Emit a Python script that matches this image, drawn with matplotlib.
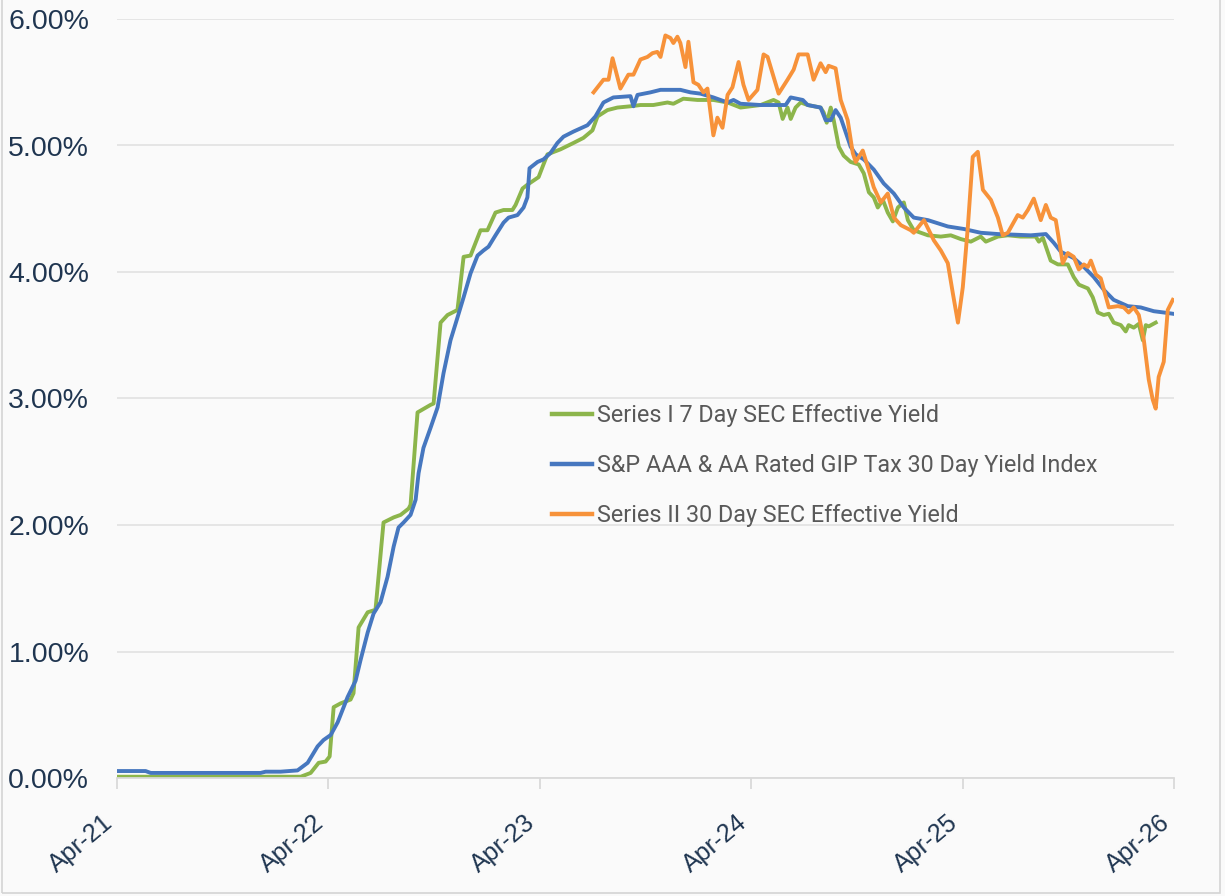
import numpy as np
import pandas as pd
import matplotlib
matplotlib.use("Agg")
import matplotlib.pyplot as plt
from matplotlib.ticker import FuncFormatter
from matplotlib.patches import Rectangle

# ---------------- data (dates as decimal years, yields in %) ----------------
series1_t = [2021.250, 2022.116, 2022.163, 2022.201, 2022.234, 2022.253, 2022.272, 2022.305,
             2022.352, 2022.366, 2022.390, 2022.433, 2022.470, 2022.508, 2022.556, 2022.589,
             2022.627, 2022.636, 2022.669, 2022.731, 2022.745, 2022.778, 2022.811, 2022.858,
             2022.887, 2022.920, 2022.967, 2023.000, 2023.038, 2023.076, 2023.118, 2023.133,
             2023.166, 2023.189, 2023.242, 2023.265, 2023.284, 2023.346, 2023.407, 2023.454,
             2023.497, 2023.521, 2023.568, 2023.615, 2023.677, 2023.724, 2023.785, 2023.852,
             2023.880, 2023.927, 2023.994, 2024.069, 2024.136, 2024.197, 2024.292, 2024.353,
             2024.377, 2024.396, 2024.419, 2024.434, 2024.457, 2024.481, 2024.514, 2024.575,
             2024.590, 2024.604, 2024.623, 2024.637, 2024.661, 2024.684, 2024.717, 2024.755,
             2024.779, 2024.803, 2024.826, 2024.845, 2024.869, 2024.892, 2024.916, 2024.940,
             2024.968, 2024.987, 2025.015, 2025.082, 2025.143, 2025.190, 2025.238, 2025.285,
             2025.332, 2025.356, 2025.413, 2025.460, 2025.521, 2025.592, 2025.607, 2025.626,
             2025.663, 2025.697, 2025.744, 2025.772, 2025.796, 2025.839, 2025.862, 2025.886,
             2025.914, 2025.938, 2025.961, 2025.995, 2026.018, 2026.032, 2026.056, 2026.080,
             2026.099, 2026.113, 2026.127, 2026.160]
series1_v = [0.01, 0.01, 0.04, 0.12, 0.13, 0.17, 0.56, 0.59,
             0.62, 0.67, 1.19, 1.31, 1.33, 2.02, 2.06, 2.08,
             2.13, 2.16, 2.89, 2.95, 2.96, 3.60, 3.66, 3.70,
             4.12, 4.13, 4.33, 4.33, 4.47, 4.49, 4.49, 4.53,
             4.66, 4.69, 4.75, 4.85, 4.93, 4.97, 5.02, 5.06,
             5.12, 5.23, 5.28, 5.30, 5.31, 5.32, 5.32, 5.34,
             5.33, 5.37, 5.36, 5.36, 5.34, 5.30, 5.32, 5.36,
             5.34, 5.21, 5.30, 5.21, 5.30, 5.34, 5.32, 5.30,
             5.26, 5.18, 5.30, 5.20, 4.99, 4.92, 4.87, 4.85,
             4.78, 4.63, 4.59, 4.51, 4.57, 4.47, 4.40, 4.51,
             4.55, 4.41, 4.33, 4.29, 4.28, 4.29, 4.26, 4.24,
             4.28, 4.24, 4.28, 4.29, 4.28, 4.28, 4.24, 4.27,
             4.09, 4.06, 4.06, 3.96, 3.90, 3.87, 3.80, 3.68,
             3.66, 3.67, 3.60, 3.58, 3.53, 3.58, 3.56, 3.59,
             3.46, 3.58, 3.57, 3.60]

index_t = [2021.250, 2021.382, 2021.406, 2021.926, 2021.950, 2022.021, 2022.101, 2022.149,
           2022.196, 2022.224, 2022.258, 2022.291, 2022.338, 2022.376, 2022.399, 2022.433,
           2022.461, 2022.494, 2022.527, 2022.556, 2022.579, 2022.603, 2022.636, 2022.660,
           2022.674, 2022.697, 2022.731, 2022.764, 2022.792, 2022.825, 2022.858, 2022.887,
           2022.920, 2022.953, 2022.981, 2023.005, 2023.038, 2023.076, 2023.100, 2023.142,
           2023.171, 2023.189, 2023.199, 2023.237, 2023.265, 2023.298, 2023.331, 2023.360,
           2023.407, 2023.473, 2023.511, 2023.549, 2023.596, 2023.677, 2023.691, 2023.710,
           2023.771, 2023.819, 2023.913, 2023.961, 2024.008, 2024.069, 2024.136, 2024.164,
           2024.197, 2024.292, 2024.353, 2024.410, 2024.434, 2024.491, 2024.514, 2024.575,
           2024.599, 2024.623, 2024.646, 2024.670, 2024.717, 2024.741, 2024.779, 2024.826,
           2024.873, 2024.921, 2024.968, 2025.015, 2025.082, 2025.176, 2025.252, 2025.332,
           2025.413, 2025.569, 2025.640, 2025.678, 2025.711, 2025.772, 2025.820, 2025.867,
           2025.914, 2025.961, 2026.028, 2026.089, 2026.151, 2026.198, 2026.241]
index_v = [0.055, 0.055, 0.04, 0.04, 0.05, 0.05, 0.06, 0.12,
           0.25, 0.30, 0.34, 0.44, 0.64, 0.77, 0.93, 1.15,
           1.30, 1.39, 1.59, 1.83, 1.98, 2.02, 2.08, 2.20,
           2.41, 2.61, 2.77, 2.93, 3.20, 3.46, 3.64, 3.80,
           3.99, 4.13, 4.17, 4.20, 4.29, 4.39, 4.43, 4.45,
           4.51, 4.59, 4.82, 4.87, 4.89, 4.94, 5.02, 5.07,
           5.11, 5.16, 5.23, 5.34, 5.38, 5.39, 5.31, 5.40,
           5.42, 5.44, 5.44, 5.42, 5.41, 5.38, 5.34, 5.36,
           5.33, 5.32, 5.32, 5.32, 5.38, 5.36, 5.32, 5.30,
           5.20, 5.20, 5.28, 5.22, 4.99, 4.93, 4.89, 4.81,
           4.70, 4.62, 4.51, 4.43, 4.41, 4.36, 4.34, 4.31,
           4.30, 4.29, 4.30, 4.23, 4.16, 4.11, 4.04, 3.96,
           3.86, 3.78, 3.73, 3.72, 3.69, 3.68, 3.67]

series2_t = [2023.502, 2023.549, 2023.573, 2023.592, 2023.629, 2023.667, 2023.691, 2023.724,
             2023.757, 2023.781, 2023.804, 2023.819, 2023.842, 2023.866, 2023.880, 2023.899,
             2023.913, 2023.937, 2023.951, 2023.975, 2023.998, 2024.022, 2024.041, 2024.069,
             2024.088, 2024.112, 2024.136, 2024.159, 2024.188, 2024.211, 2024.235, 2024.277,
             2024.306, 2024.325, 2024.377, 2024.419, 2024.448, 2024.471, 2024.514, 2024.542,
             2024.575, 2024.599, 2024.613, 2024.646, 2024.670, 2024.703, 2024.727, 2024.741,
             2024.774, 2024.798, 2024.826, 2024.859, 2024.892, 2024.921, 2024.954, 2025.001,
             2025.015, 2025.063, 2025.110, 2025.143, 2025.176, 2025.200, 2025.224, 2025.247,
             2025.271, 2025.294, 2025.318, 2025.342, 2025.380, 2025.413, 2025.436, 2025.460,
             2025.507, 2025.531, 2025.555, 2025.583, 2025.616, 2025.640, 2025.663, 2025.687,
             2025.720, 2025.744, 2025.772, 2025.796, 2025.820, 2025.839, 2025.853, 2025.877,
             2025.900, 2025.938, 2025.981, 2026.009, 2026.032, 2026.056, 2026.080, 2026.104,
             2026.127, 2026.146, 2026.160, 2026.174, 2026.198, 2026.217, 2026.241]
series2_v = [5.42, 5.52, 5.52, 5.69, 5.45, 5.56, 5.56, 5.68,
             5.70, 5.73, 5.74, 5.70, 5.87, 5.85, 5.81, 5.86,
             5.81, 5.62, 5.82, 5.50, 5.48, 5.42, 5.45, 5.08,
             5.22, 5.14, 5.40, 5.46, 5.66, 5.48, 5.36, 5.44,
             5.72, 5.70, 5.41, 5.52, 5.60, 5.72, 5.72, 5.52,
             5.65, 5.58, 5.63, 5.61, 5.36, 5.20, 4.94, 4.87,
             4.96, 4.83, 4.67, 4.55, 4.62, 4.43, 4.37, 4.33,
             4.31, 4.41, 4.25, 4.17, 4.07, 3.83, 3.60, 3.88,
             4.36, 4.91, 4.95, 4.65, 4.57, 4.43, 4.29, 4.31,
             4.45, 4.43, 4.49, 4.58, 4.41, 4.53, 4.43, 4.41,
             4.07, 4.15, 4.12, 4.02, 4.06, 4.04, 4.09, 3.98,
             3.95, 3.72, 3.73, 3.72, 3.68, 3.72, 3.66, 3.46,
             3.15, 2.99, 2.92, 3.17, 3.29, 3.70, 3.78]

series_labels = ["Series I 7 Day SEC Effective Yield",
                 "S&P AAA & AA Rated GIP Tax 30 Day Yield Index",
                 "Series II 30 Day SEC Effective Yield"]
tick_years = [2021, 2022, 2023, 2024, 2025, 2026]
tick_labels = ["Apr-21", "Apr-22", "Apr-23", "Apr-24", "Apr-25", "Apr-26"]
y_ticks = [0, 1, 2, 3, 4, 5, 6]


def to_dates(dec):
    out = []
    for d in dec:
        y = int(np.floor(d))
        start = pd.Timestamp(year=y, month=1, day=1)
        ndays = (pd.Timestamp(year=y + 1, month=1, day=1) - start).days
        out.append(start + pd.Timedelta(days=(d - y) * ndays))
    return pd.to_datetime(out)


BG = "#fafafa"
GREEN = "#8cb54b"
BLUE = "#4677bf"
ORANGE = "#f7923a"
TICK_COLOR = "#1f3550"
GRID = "#e3e3e3"

fig = plt.figure(figsize=(12.25, 8.96), dpi=100, facecolor=BG)
ax = fig.add_axes([117 / 1225, 1 - 778 / 896, (1174 - 117) / 1225, (778 - 19) / 896])
ax.set_facecolor(BG)

# figure border
fig.patches.append(Rectangle((0.002, 0.003), 0.994, 1.2, transform=fig.transFigure,
                             facecolor="none", edgecolor="#d4d4d4", linewidth=1.2))

lw = 2.8
ax.plot(to_dates(series1_t), series1_v, color=GREEN, lw=lw, label=series_labels[0], zorder=3,
        solid_joinstyle="round")
ax.plot(to_dates(index_t), index_v, color=BLUE, lw=lw, label=series_labels[1], zorder=4,
        solid_joinstyle="round")
ax.plot(to_dates(series2_t), series2_v, color=ORANGE, lw=lw, label=series_labels[2], zorder=5,
        solid_joinstyle="round")

ax.set_ylim(0, 6)
ax.set_xlim(pd.Timestamp("2021-04-01"), pd.Timestamp("2026-04-01"))

ax.set_yticks(y_ticks)
ax.yaxis.set_major_formatter(FuncFormatter(lambda v, p: f"{v:.2f}%"))
ax.grid(axis="y", color=GRID, lw=1.3)
ax.set_axisbelow(True)

xt = [pd.Timestamp(year=y, month=4, day=1) for y in tick_years]
ax.set_xticks(xt)
ax.set_xticklabels(tick_labels)

for s in ["top", "right", "left"]:
    ax.spines[s].set_visible(False)
ax.spines["bottom"].set_color("#d9d9d9")
ax.spines["bottom"].set_linewidth(1.3)
ax.spines["bottom"].set_zorder(6)

ax.tick_params(axis="y", length=0, pad=20, labelsize=20.5, labelcolor=TICK_COLOR)
ax.tick_params(axis="x", length=8, width=1.3, color="#d9d9d9", pad=15, labelsize=18,
               labelcolor=TICK_COLOR)
for lab in ax.get_xticklabels():
    lab.set_rotation(40)
    lab.set_ha("right")
    lab.set_va("top")
for lab in ax.get_xticklabels() + ax.get_yticklabels():
    lab.set_fontfamily(["Liberation Sans", "DejaVu Sans"])

leg = ax.legend(loc="upper left", bbox_to_anchor=(0.392, 0.52), frameon=False,
                handlelength=1.7, handletextpad=0.2, labelspacing=1.15,
                prop={"family": ["Roboto", "DejaVu Sans"], "size": 16.8})
for t in leg.get_texts():
    t.set_color("#595959")
for h in leg.get_lines():
    h.set_linewidth(3.2)

fig.savefig("out.png", dpi=100, facecolor=BG)
